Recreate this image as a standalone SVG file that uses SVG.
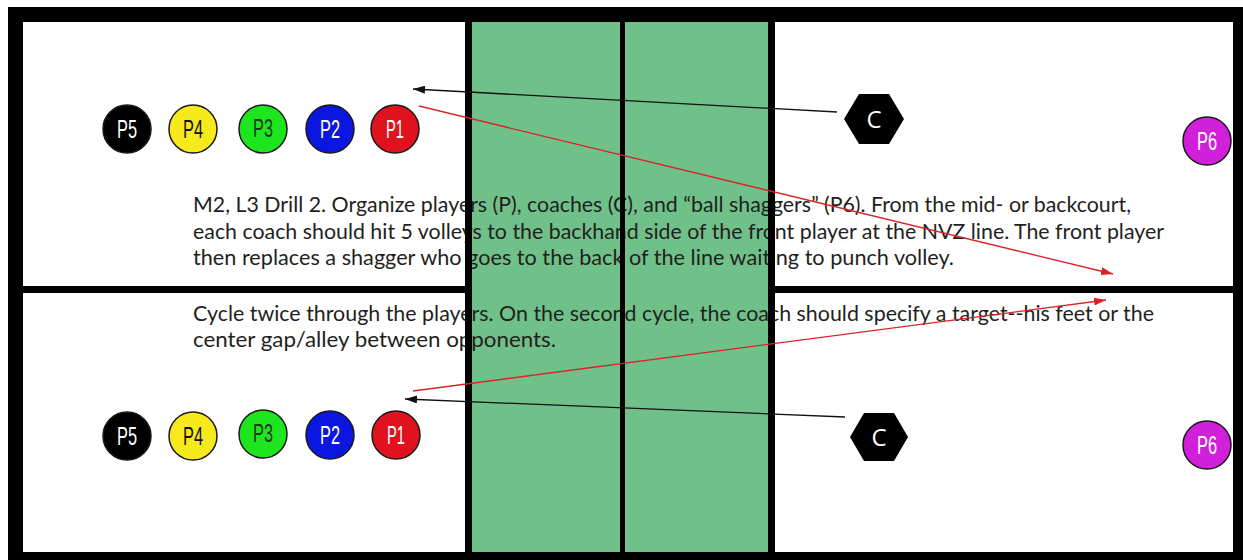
<svg xmlns="http://www.w3.org/2000/svg" width="1243" height="560" viewBox="0 0 1243 560">
  <style>
    .para { font-family: "Lato", "Open Sans", "Liberation Sans", sans-serif; font-size: 21px; fill: #231f20; }
    .pl { stroke: #1a1a1a; stroke-width: 1.5; }
    .plabel { font-family: "Liberation Sans", "Arial", sans-serif; font-size: 25px; text-anchor: middle; }
    .coach { fill: #000; }
    .clabel { font-family: "Open Sans", "Liberation Sans", sans-serif; font-size: 24px; fill: #fff; text-anchor: middle; }
    .blk { stroke: #111; stroke-width: 1.3; fill: none; }
    .red { stroke: #d8232a; stroke-width: 1.3; fill: none; }
    .netline { fill: #000; }
  </style>
  <defs>
    <marker id="ahBlack" viewBox="0 0 12 8" refX="12" refY="4" markerWidth="12" markerHeight="8" markerUnits="userSpaceOnUse" orient="auto">
      <path d="M0,0 L12,4 L0,8 z" fill="#111"/>
    </marker>
    <marker id="ahRed" viewBox="0 0 12 8" refX="12" refY="4" markerWidth="12" markerHeight="8" markerUnits="userSpaceOnUse" orient="auto">
      <path d="M0,0 L12,4 L0,8 z" fill="#d8232a"/>
    </marker>
  </defs>

  <!-- court frame -->
  <rect x="0" y="0" width="1243" height="560" fill="#fff"/>
  <rect x="8" y="7" width="1235" height="553" fill="#000"/>
  <rect x="23" y="22" width="1210" height="530" fill="#fff"/>
  <rect x="23" y="286" width="1210" height="7" fill="#000"/>

  <!-- kitchen zones -->
  <g id="kitchen">
    <rect x="465" y="22" width="310" height="530" fill="#70c08a"/>
  </g>

  <!-- drill description -->
  <g id="description">
    <text class="para" x="193" y="212" textLength="938" lengthAdjust="spacingAndGlyphs">M2, L3 Drill 2. Organize players (P), coaches (C), and “ball shaggers” (P6). From the mid- or backcourt,</text>
    <text class="para" x="193" y="239" textLength="971" lengthAdjust="spacingAndGlyphs">each coach should hit 5 volleys to the backhand side of the front player at the NVZ line. The front player</text>
    <text class="para" x="193" y="265" textLength="761" lengthAdjust="spacingAndGlyphs">then replaces a shagger who goes to the back of the line waiting to punch volley.</text>
    <text class="para" x="193" y="321" textLength="961" lengthAdjust="spacingAndGlyphs">Cycle twice through the players. On the second cycle, the coach should specify a target--his feet or the</text>
    <text class="para" x="193" y="347" textLength="363" lengthAdjust="spacingAndGlyphs">center gap/alley between opponents.</text>
  </g>

  <!-- kitchen lines and net -->
  <g id="net">
    <rect class="netline" x="465" y="22" width="7" height="530"/>
    <rect class="netline" x="620" y="22" width="5" height="530"/>
    <rect class="netline" x="768" y="22" width="7" height="530"/>
  </g>

  <!-- top court players -->
  <g id="top-p5"><circle class="pl" cx="127" cy="129" r="24" fill="#000"/><text class="plabel" x="127" y="138" fill="#fff" textLength="20" lengthAdjust="spacingAndGlyphs">P5</text></g>
  <g id="top-p4"><circle class="pl" cx="193" cy="129" r="24" fill="#f7ea1c"/><text class="plabel" x="193" y="138" fill="#111" textLength="20" lengthAdjust="spacingAndGlyphs">P4</text></g>
  <g id="top-p3"><circle class="pl" cx="263" cy="129" r="24" fill="#1ee61e"/><text class="plabel" x="263" y="137" fill="#1a3a1a" textLength="20" lengthAdjust="spacingAndGlyphs">P3</text></g>
  <g id="top-p2"><circle class="pl" cx="330" cy="129" r="24" fill="#0b16e0"/><text class="plabel" x="330" y="138" fill="#fff" textLength="20" lengthAdjust="spacingAndGlyphs">P2</text></g>
  <g id="top-p1"><circle class="pl" cx="395" cy="129" r="24" fill="#e0121e"/><text class="plabel" x="395" y="138" fill="#fff" textLength="18" lengthAdjust="spacingAndGlyphs">P1</text></g>
  <g id="top-p6"><circle class="pl" cx="1207" cy="141" r="24" fill="#d21fd9"/><text class="plabel" x="1207" y="150" fill="#fff" textLength="20" lengthAdjust="spacingAndGlyphs">P6</text></g>
  <g id="top-coach"><polygon class="coach" points="844,119 859,94 889,94 904,119 889,144 859,144"/><text class="clabel" x="874" y="128">C</text></g>

  <!-- bottom court players -->
  <g id="bot-p5"><circle class="pl" cx="127" cy="436" r="24" fill="#000"/><text class="plabel" x="127" y="445" fill="#fff" textLength="20" lengthAdjust="spacingAndGlyphs">P5</text></g>
  <g id="bot-p4"><circle class="pl" cx="193" cy="436" r="24" fill="#f7ea1c"/><text class="plabel" x="193" y="445" fill="#111" textLength="20" lengthAdjust="spacingAndGlyphs">P4</text></g>
  <g id="bot-p3"><circle class="pl" cx="263" cy="434" r="24" fill="#1ee61e"/><text class="plabel" x="263" y="442" fill="#1a3a1a" textLength="20" lengthAdjust="spacingAndGlyphs">P3</text></g>
  <g id="bot-p2"><circle class="pl" cx="330" cy="435" r="24" fill="#0b16e0"/><text class="plabel" x="330" y="444" fill="#fff" textLength="20" lengthAdjust="spacingAndGlyphs">P2</text></g>
  <g id="bot-p1"><circle class="pl" cx="396" cy="435" r="24" fill="#e0121e"/><text class="plabel" x="396" y="444" fill="#fff" textLength="18" lengthAdjust="spacingAndGlyphs">P1</text></g>
  <g id="bot-p6"><circle class="pl" cx="1207" cy="445" r="24" fill="#d21fd9"/><text class="plabel" x="1207" y="454" fill="#fff" textLength="20" lengthAdjust="spacingAndGlyphs">P6</text></g>
  <g id="bot-coach"><polygon class="coach" points="850,437 864,413 894,413 908,437 894,461 864,461"/><text class="clabel" x="879" y="446">C</text></g>

  <!-- shot paths -->
  <g id="connectors">
    <line class="blk" x1="837" y1="112" x2="413" y2="89" marker-end="url(#ahBlack)"/>
    <line class="red" x1="419" y1="106" x2="1113" y2="274" marker-end="url(#ahRed)"/>
    <line class="red" x1="413" y1="391" x2="1106" y2="300" marker-end="url(#ahRed)"/>
    <line class="blk" x1="845" y1="417" x2="405" y2="399" marker-end="url(#ahBlack)"/>
  </g>
</svg>
